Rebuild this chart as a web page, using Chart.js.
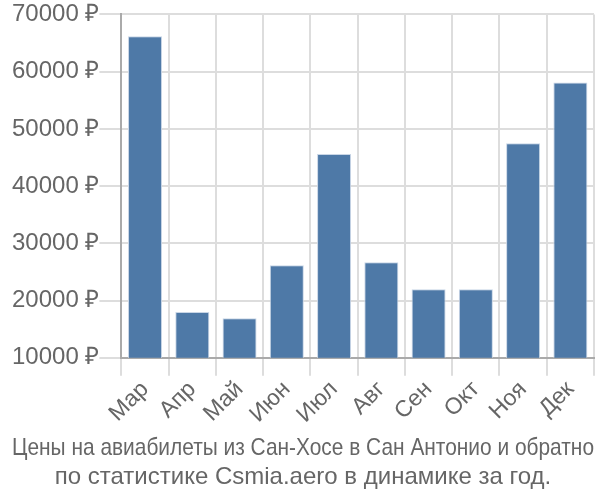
<!DOCTYPE html>
<html>
<head>
<meta charset="utf-8">
<script src="https://cdn.jsdelivr.net/npm/chart.js@4"></script>
<style>
  html, body { margin: 0; padding: 0; background: #fff; }
  #wrap { width: 600px; height: 500px; }
</style>
</head>
<body>
<div id="wrap"><canvas id="myChart"></canvas></div>
<script>
// Данные графика
const months = ['Мар', 'Апр', 'Май', 'Июн', 'Июл', 'Авг', 'Сен', 'Окт', 'Ноя', 'Дек'];
const prices = [66200, 18000, 16900, 26200, 45600, 26700, 22000, 22000, 47500, 58100];
const titleLines = ['Цены на авиабилеты из Сан-Хосе в Сан Антонио и обратно', 'по статистике Csmia.aero в динамике за год.'];

Chart.defaults.font.family = '"Liberation Sans", Arial, sans-serif';
Chart.defaults.color = '#666';

const ctx = document.getElementById('myChart').getContext('2d');
const myChart = new Chart(ctx, {
    type: 'bar',
    data: {
        labels: months,
        datasets: [{
            data: prices,
            backgroundColor: '#4e79a7',
            borderColor: '#c9d6e6',
            borderWidth: 1,
            barPercentage: 0.9,
            categoryPercentage: 0.8
        }]
    },
    options: {
        responsive: true,
        maintainAspectRatio: false,
        animation: false,
        layout: { padding: { left: 12, right: 6, top: 4, bottom: 0 } },
        plugins: {
            legend: { display: false },
            tooltip: { enabled: false },
            title: {
                display: true,
                position: 'bottom',
                text: titleLines,
                color: '#666',
                font: { size: 24, weight: 'normal' },
                padding: { top: 6, bottom: 8 },
                lineHeight: 1.15
            }
        },
        scales: {
            x: {
                grid: { color: '#ddd', lineWidth: 2, tickLength: 18, offset: true },
                border: { color: '#aaa', width: 2 },
                ticks: { font: { size: 23 }, color: '#666', maxRotation: 45, minRotation: 45, padding: 0 }
            },
            y: {
                min: 10000,
                max: 70000,
                grid: { color: '#ddd', lineWidth: 2, tickLength: 22 },
                border: { color: '#aaa', width: 2 },
                ticks: {
                    stepSize: 10000,
                    font: { size: 24 },
                    color: '#666',
                    padding: 0,
                    callback: v => v + ' ₽'
                }
            }
        }
    }
});
</script>
</body>
</html>
